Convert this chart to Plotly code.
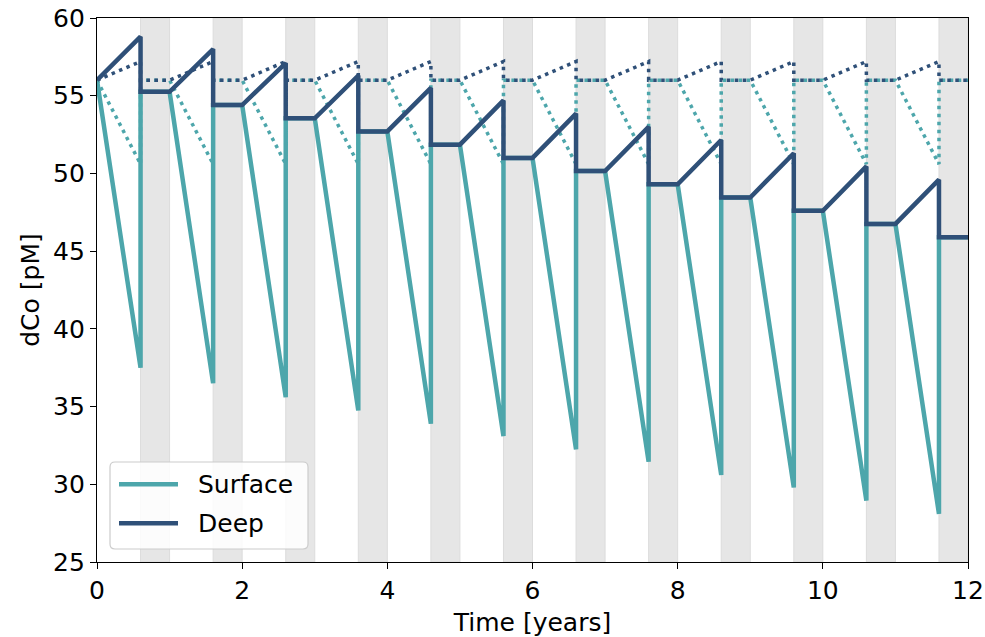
import plotly.graph_objects as go

# ---- data ----
years = list(range(12))                      # start of each yearly cycle
season_end = 0.6                              # fraction of year when drawdown ends
deep_peak = [58.8, 58.0, 57.1, 56.3, 55.5, 54.7, 53.85, 53.0, 52.15, 51.3, 50.45, 49.6]
deep_flat = [55.25, 54.4, 53.55, 52.7, 51.85, 51.0, 50.15, 49.3, 48.45, 47.6, 46.75, 45.9]
surface_min = [37.5, 36.5, 35.6, 34.75, 33.9, 33.1, 32.25, 31.45, 30.6, 29.8, 28.95, 28.1]
start_value = 56.0
ref_surface_min = 50.6
ref_deep_peak = 57.2

series_names = ["Surface", "Deep"]
x_ticks = [0, 2, 4, 6, 8, 10, 12]
y_ticks = [25, 30, 35, 40, 45, 50, 55, 60]

teal = "#4da6ab"
navy = "#2f5078"

# ---- build series ----
def build(starts, ends, resets):
    xs, ys = [], []
    for i, y0 in enumerate(years):
        xs += [y0, y0 + season_end, y0 + season_end, y0 + 1]
        ys += [starts[i], ends[i], resets[i], resets[i]]
    return xs, ys

surf_start = [start_value] + deep_flat[:-1]
sx, sy = build(surf_start, surface_min, deep_flat)
dx, dy = build(surf_start, deep_peak, deep_flat)
n = len(years)
rsx, rsy = build([start_value] * n, [ref_surface_min] * n, [start_value] * n)
rdx, rdy = build([start_value] * n, [ref_deep_peak] * n, [start_value] * n)

fig = go.Figure()
fig.add_trace(go.Scatter(x=rsx, y=rsy, mode="lines", showlegend=False,
                         line=dict(color=teal, width=3.5, dash="3.5px,4.5px")))
fig.add_trace(go.Scatter(x=rdx, y=rdy, mode="lines", showlegend=False,
                         line=dict(color=navy, width=3.5, dash="3.5px,4.5px")))
fig.add_trace(go.Scatter(x=sx, y=sy, mode="lines", name=series_names[0], showlegend=False,
                         line=dict(color=teal, width=4.5)))
fig.add_trace(go.Scatter(x=dx, y=dy, mode="lines", name=series_names[1], showlegend=False,
                         line=dict(color=navy, width=4.5)))

for y0 in years:
    fig.add_shape(type="rect", xref="x", yref="paper", x0=y0 + season_end, x1=y0 + 1,
                  y0=0, y1=1, fillcolor="#e6e6e6", line=dict(color="#dcdcdc", width=1),
                  layer="below")

# ---- legend box (matplotlib style) ----
W, H = 871.0, 544.0
bx0, bx1, by0, by1 = 13 / W, 211 / W, 13 / H, 100 / H
rx, ry = 5 / W, 5 / H
path = (f"M {bx0+rx},{by0} L {bx1-rx},{by0} Q {bx1},{by0} {bx1},{by0+ry} "
        f"L {bx1},{by1-ry} Q {bx1},{by1} {bx1-rx},{by1} L {bx0+rx},{by1} "
        f"Q {bx0},{by1} {bx0},{by1-ry} L {bx0},{by0+ry} Q {bx0},{by0} {bx0+rx},{by0} Z")
fig.add_shape(type="path", xref="paper", yref="paper", path=path,
              fillcolor="rgba(255,255,255,0.85)", line=dict(color="#cccccc", width=1.2),
              layer="above")
for name, col, yy in [(series_names[0], teal, 77.7 / H), (series_names[1], navy, 38.7 / H)]:
    fig.add_shape(type="line", xref="paper", yref="paper", x0=22 / W, x1=81 / W,
                  y0=yy, y1=yy, line=dict(color=col, width=4.5), layer="above")
    fig.add_annotation(xref="paper", yref="paper", x=99 / W, y=yy, text=name,
                       showarrow=False, xanchor="left", yanchor="middle",
                       font=dict(size=25, color="black"))

axis_common = dict(showgrid=False, zeroline=False, showline=True, linecolor="black",
                   linewidth=1.3, mirror=True, ticks="outside", ticklen=6, tickwidth=1.3,
                   tickcolor="black", tickfont=dict(size=25, color="black"),
                   automargin=False, ticklabeloverflow="allow")

fig.update_layout(
    width=985, height=637,
    margin=dict(l=97, r=17, t=18, b=75),
    paper_bgcolor="white", plot_bgcolor="white",
    font=dict(family="DejaVu Sans", color="black"),
    showlegend=False,
    xaxis=dict(range=[0, 12], tickvals=x_ticks,
               title=dict(text="Time [years]", font=dict(size=25), standoff=10),
               **axis_common),
    yaxis=dict(range=[25, 60], tickvals=y_ticks,
               title=dict(text="dCo [pM]", font=dict(size=25), standoff=6),
               **axis_common),
)

fig.write_html("out.html",
               config={"displayModeBar": False},
               post_script="document.body.style.margin='0px';"
                           "document.body.style.overflow='hidden';")
